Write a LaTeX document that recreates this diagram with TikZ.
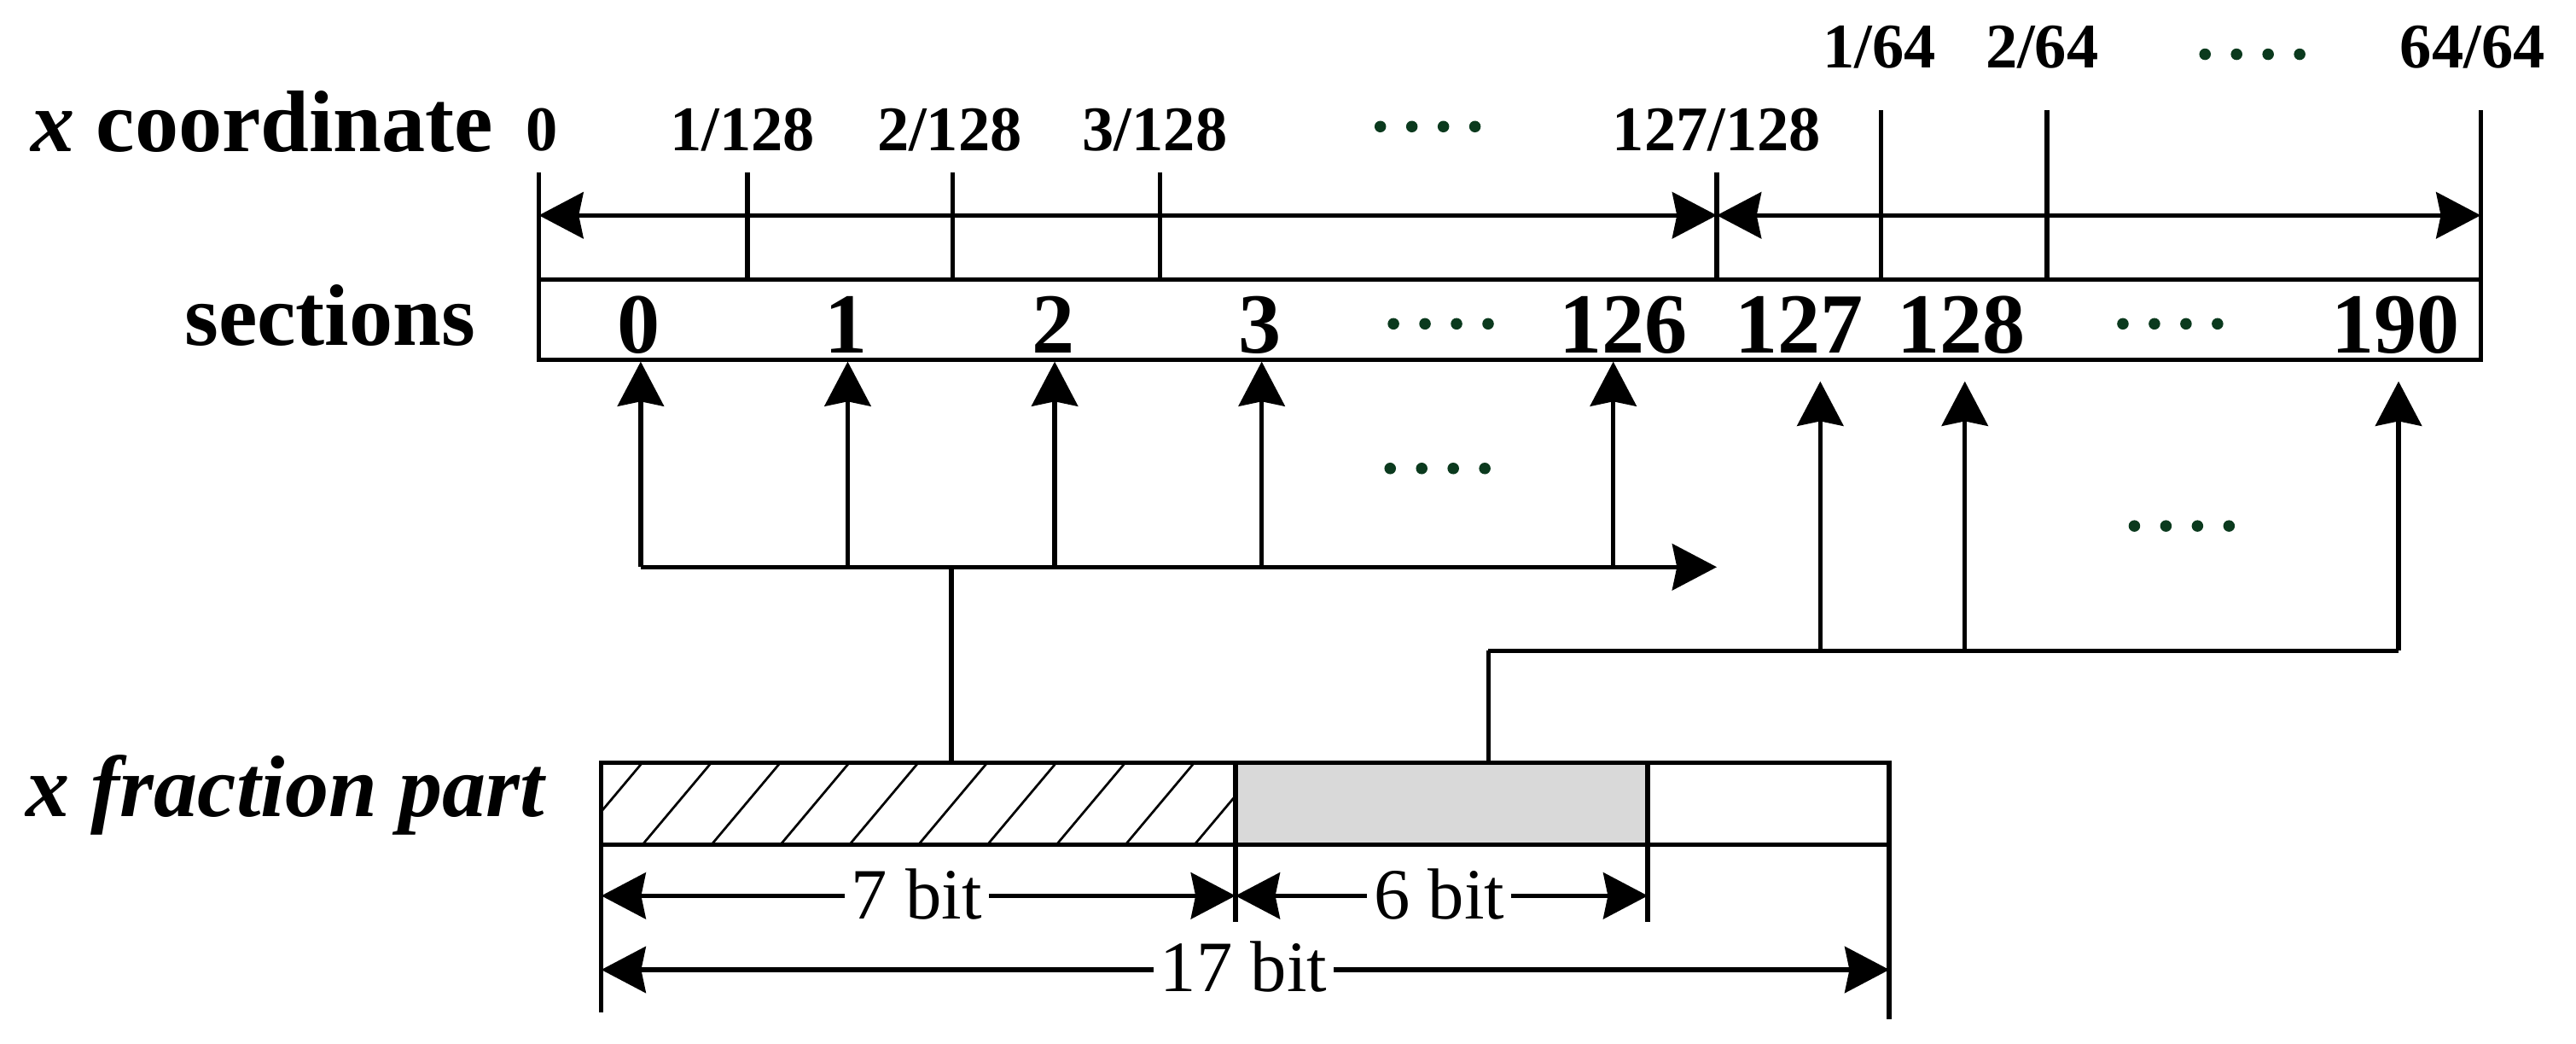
\documentclass[tikz,border=0pt]{standalone}
\usepackage{fontspec}
\setmainfont{Liberation Serif}
\usetikzlibrary{arrows.meta}
\definecolor{dgreen}{HTML}{0B3A1E}
\definecolor{lgray}{HTML}{D9D9D9}
\begin{document}
\begin{tikzpicture}[x=0.01cm,y=-0.01cm,
  ln/.style={line width=0.8pt,black},
  tipA/.tip={Stealth[length=7.7pt,width=8pt,inset=0.8pt]},
  arr/.style={ln,-tipA},
  darr/.style={ln,tipA-tipA},
  hatch/.style={line width=0.4pt,black},
  biglab/.style={font=\fontsize{15.1}{18}\selectfont\bfseries,inner sep=0pt},
  seclab/.style={font=\fontsize{14.8}{18}\selectfont\bfseries,inner sep=0pt,anchor=base},
  ticklab/.style={font=\fontsize{11}{13}\selectfont\bfseries,inner sep=0pt,anchor=base},
  bitlab/.style={font=\fontsize{12.5}{15}\selectfont,fill=white,inner sep=1.2pt,anchor=base},
  gdots/.pic={\foreach \i in {-1.5,-0.5,0.5,1.5}{\fill[dgreen] (\i*19.2,0) circle[radius=1pt];}}
]
\useasboundingbox (0,0) rectangle (1568,635);

% ---------- labels on the left ----------
\node[biglab,anchor=base west] (lx) at (18,92) {\textit{x} coordinate};
\node[biglab,anchor=base east] (lsec) at (290,210) {sections};
\node[biglab,anchor=base west] (lfrac) at (15,497) {\textit{x fraction part}};

% ---------- x coordinate tick labels ----------
\node[ticklab] (c0) at (330,91.5) {0};
\node[ticklab] (c1) at (452,91.5) {1/128};
\node[ticklab] (c2) at (578,91.5) {2/128};
\node[ticklab] (c3) at (703,91.5) {3/128};
\node[ticklab] (c127) at (1045,91.5) {127/128};
\node[ticklab] (d1) at (1144,41.5) {1/64};
\node[ticklab] (d2) at (1243,41.5) {2/64};
\node[ticklab] (d64) at (1505,41.5) {64/64};
\pic at (869,77) {gdots};
\pic at (1371,33) {gdots};

% ---------- ticks ----------
\coordinate (k0t) at (328,105);   \coordinate (k0b) at (328,219);
\coordinate (k1t) at (455,105);   \coordinate (k1b) at (455,170);
\coordinate (k2t) at (580,105);   \coordinate (k2b) at (580,170);
\coordinate (k3t) at (706,105);   \coordinate (k3b) at (706,170);
\coordinate (k127t) at (1045,105); \coordinate (k127b) at (1045,170);
\coordinate (m1t) at (1145,67);   \coordinate (m1b) at (1145,170);
\coordinate (m2t) at (1246,67);   \coordinate (m2b) at (1246,170);
\coordinate (m64t) at (1510,67);  \coordinate (m64b) at (1510,219);
\foreach \a in {k0,k1,k2,k3,k127,m1,m2,m64}{\draw[ln] (\a t) -- (\a b);}

% ---------- range arrows ----------
\coordinate (r0) at (328,131);
\coordinate (r1) at (1045,131);
\coordinate (r2) at (1510,131);
\draw[darr] (r0) -- (r1);
\draw[darr] (r1) -- (r2);

% ---------- sections box ----------
\coordinate (sbTL) at (328,170);
\coordinate (sbBR) at (1510,219);
\draw[ln] (sbTL) rectangle (sbBR);
\node[seclab] (s0) at (389,215) {0};
\node[seclab] (s1) at (515,215) {1};
\node[seclab] (s2) at (641,215) {2};
\node[seclab] (s3) at (767,215) {3};
\node[seclab] (s126) at (988,215) {126};
\node[seclab] (s127) at (1095,215) {127};
\node[seclab] (s128) at (1194,215) {128};
\node[seclab] (s190) at (1458,215) {190};
\pic at (877,197) {gdots};
\pic at (1321,197) {gdots};

% ---------- first selection tree (7 bit) ----------
\coordinate (b0) at (390,345);  \coordinate (u0) at (390,220);
\coordinate (b1) at (516,345);  \coordinate (u1) at (516,220);
\coordinate (b2) at (642,345);  \coordinate (u2) at (642,220);
\coordinate (b3) at (768,345);  \coordinate (u3) at (768,220);
\coordinate (b126) at (982,345); \coordinate (u126) at (982,220);
\coordinate (bend) at (1045,345);
\coordinate (bj) at (579,345);
\foreach \a in {0,1,2,3,126}{\draw[arr] (b\a) -- (u\a);}
\draw[arr] (b0) -- (bend);
\pic at (875,285) {gdots};

% ---------- second selection tree (6 bit) ----------
\coordinate (q127) at (1108,396); \coordinate (v127) at (1108,232);
\coordinate (q128) at (1196,396); \coordinate (v128) at (1196,232);
\coordinate (q190) at (1460,396); \coordinate (v190) at (1460,232);
\coordinate (qj) at (906,396);
\foreach \a in {127,128,190}{\draw[arr] (q\a) -- (v\a);}
\draw[ln] (qj) -- (q190);
\pic at (1328,320) {gdots};

% ---------- fraction box ----------
\coordinate (fTL) at (366,464);
\coordinate (fH) at (752,514);
\coordinate (fG) at (1003,464);
\coordinate (fBR) at (1150,514);
\fill[lgray] (752,464) rectangle (1003,514);
\begin{scope}
  \clip (fTL) rectangle (fH);
  \foreach \k in {-1,...,10}{\draw[hatch] (349+42*\k,514) -- (391+42*\k,464);}
\end{scope}
\draw[ln] (fTL) rectangle (fBR);
\draw[ln] (752,464) -- (752,561);
\draw[ln] (1003,464) -- (1003,561);
\draw[ln] (366,514) -- (366,616);
\draw[ln] (1150,514) -- (1150,620);

% connections from the box to the trees
\coordinate (fj1) at (579,464);
\coordinate (fj2) at (906,464);
\draw[ln] (fj1) -- (bj);
\draw[ln] (fj2) -- (qj);

% ---------- dimension arrows ----------
\coordinate (d7a) at (366,545);  \coordinate (d7b) at (752,545);
\coordinate (d6a) at (752,545);  \coordinate (d6b) at (1003,545);
\coordinate (d17a) at (366,590); \coordinate (d17b) at (1150,590);
\draw[darr] (d7a) -- (d7b);
\draw[darr] (d6a) -- (d6b);
\draw[darr] (d17a) -- (d17b);
\node[bitlab] (t7) at (558,559) {7 bit};
\node[bitlab] (t6) at (876,559) {6 bit};
\node[bitlab] (t17) at (757,603.5) {17 bit};
\end{tikzpicture}
\end{document}
